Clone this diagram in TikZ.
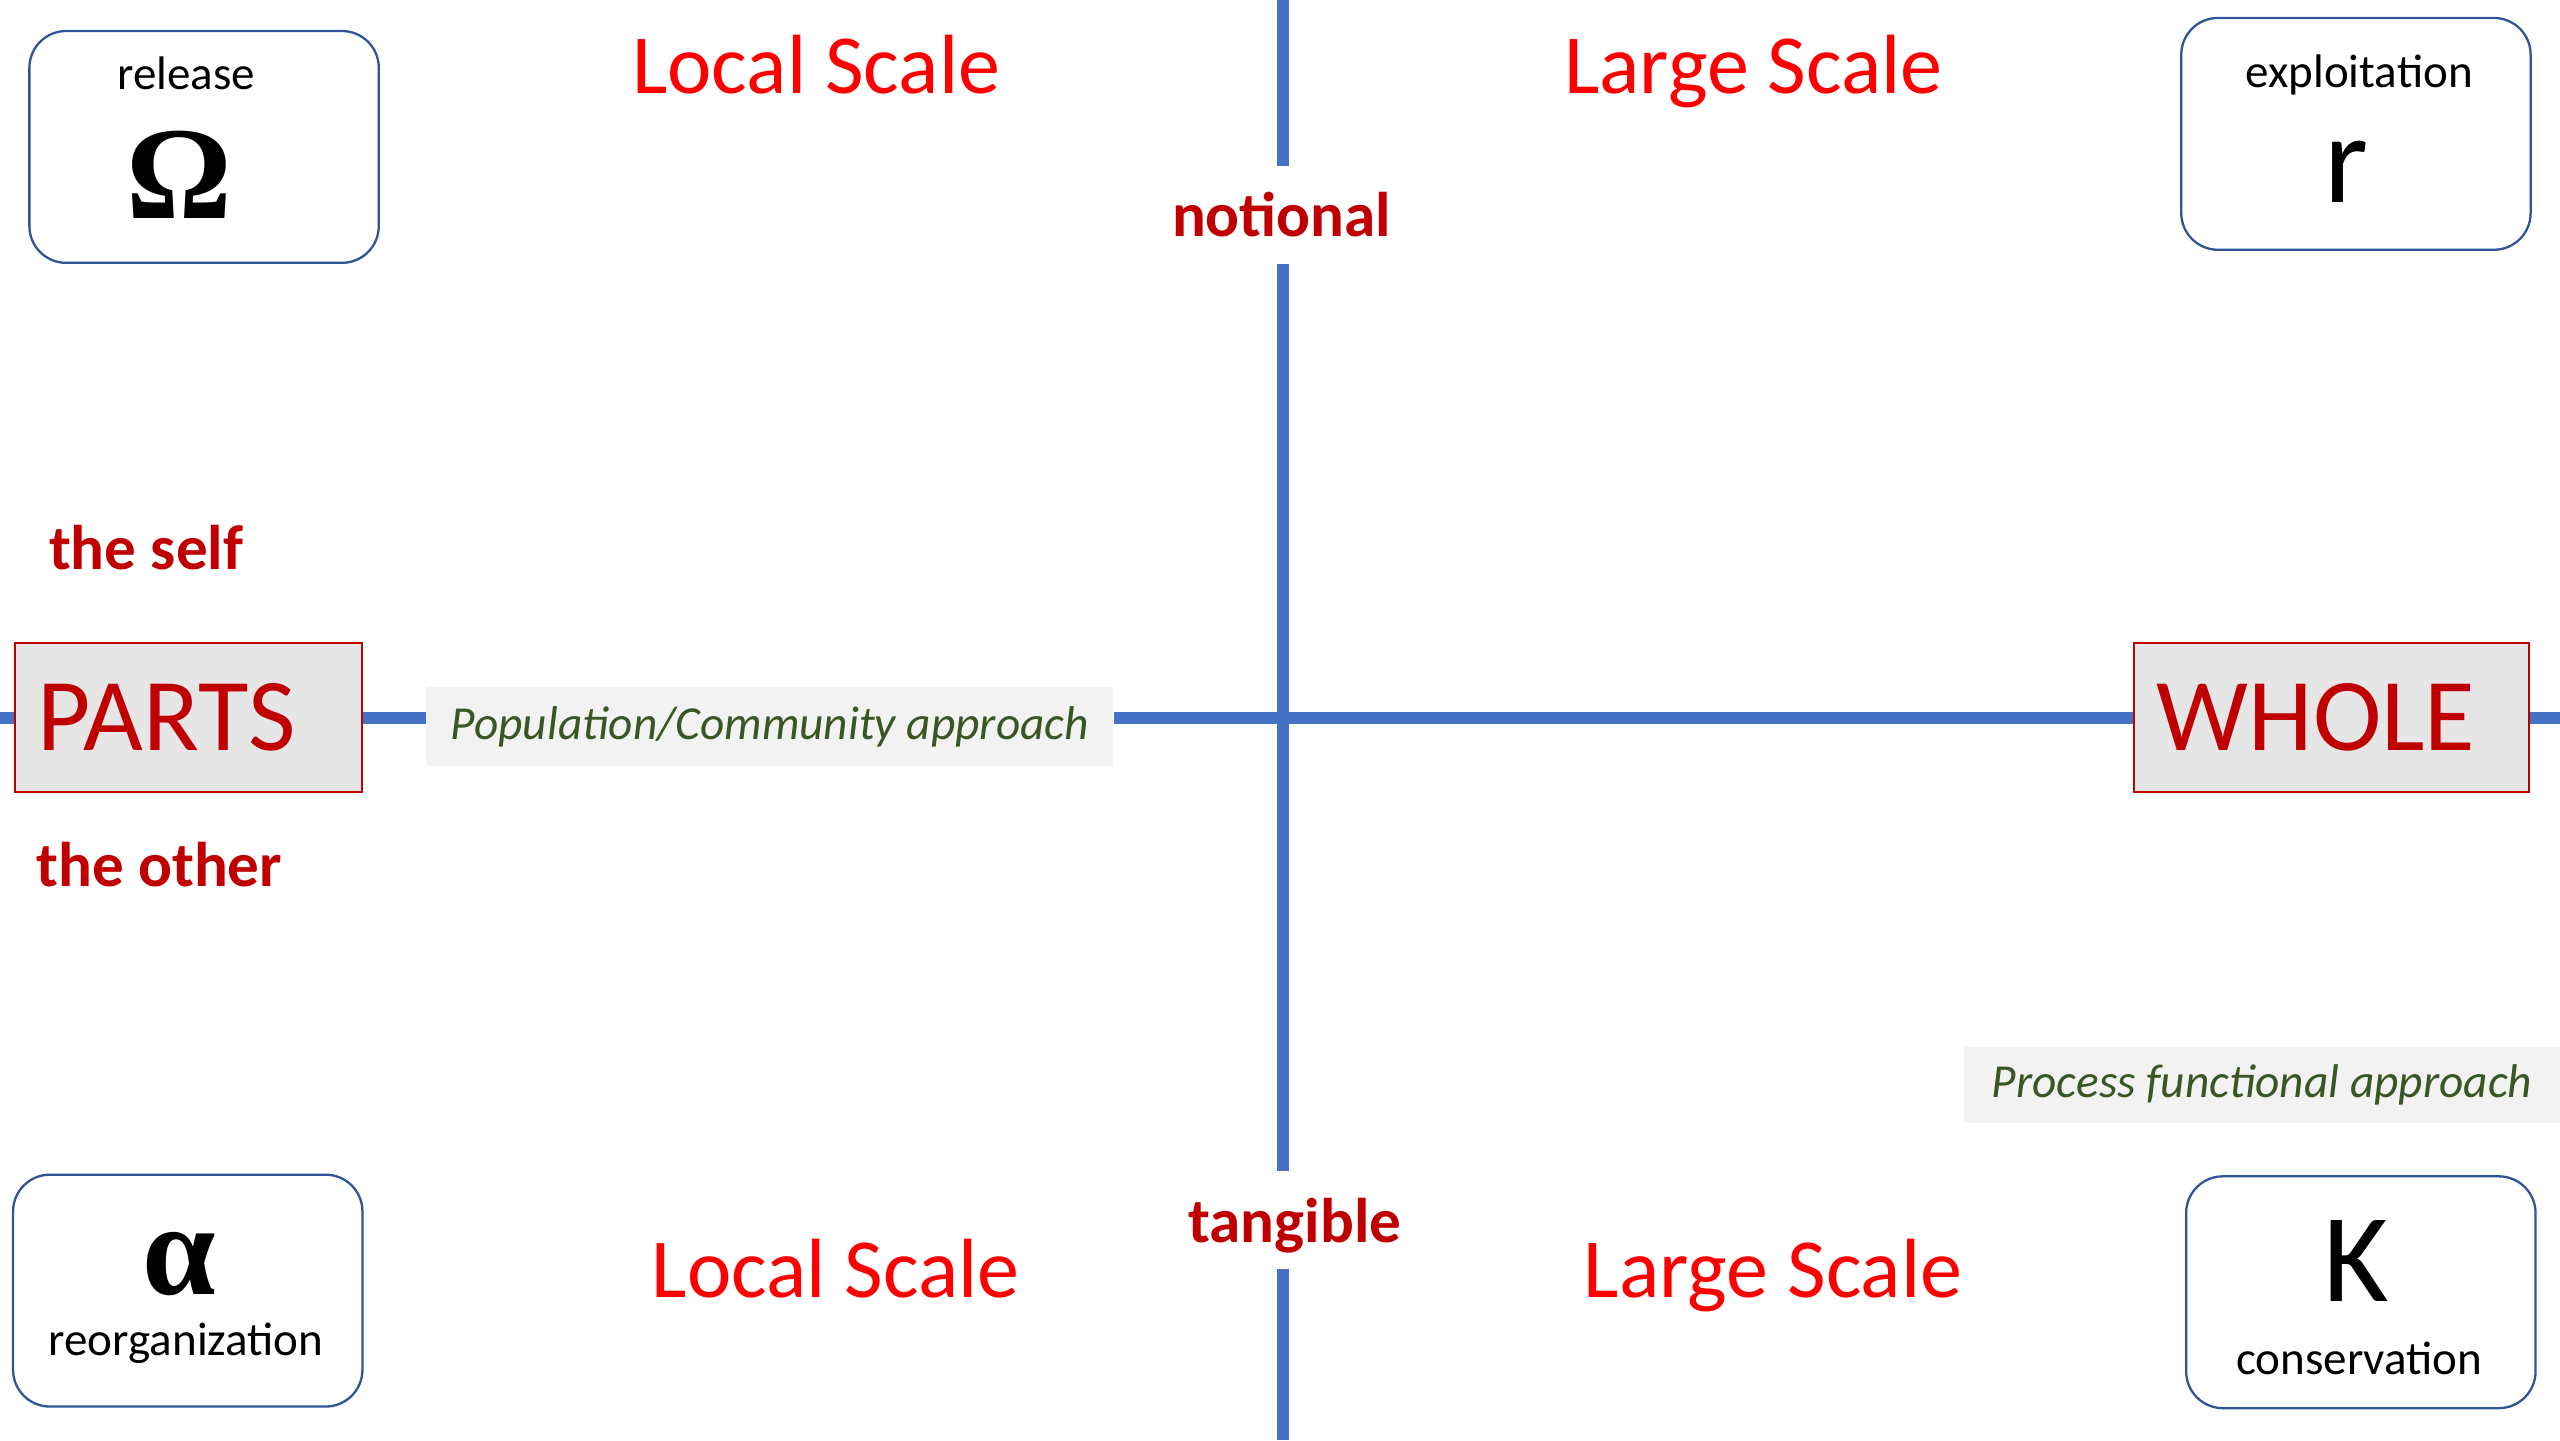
\documentclass[tikz,border=0pt]{standalone}
\usepackage{fontspec}
\setmainfont{Carlito}
\newfontfamily\greekfont{Liberation Serif}
\usepackage{xcolor}
\definecolor{axisblue}{HTML}{4472C4}
\definecolor{boxblue}{HTML}{2F5597}
\definecolor{darkred}{HTML}{C00000}
\definecolor{scalered}{HTML}{FF0000}
\definecolor{apprgreen}{HTML}{385723}
\definecolor{partsgray}{HTML}{E7E6E6}
\definecolor{labelgray}{HTML}{F2F2F2}

\begin{document}
\begin{tikzpicture}[
  axis/.style={draw=axisblue, line width=4.2pt},
  scalelabel/.style={anchor=base, text=scalered, font=\fontsize{29.3}{35}\selectfont},
  polelabel/.style={anchor=base, text=darkred, inner xsep=0pt, inner ysep=0.32cm, font=\fontsize{22}{26}\selectfont\bfseries},
  partbox/.style={draw=darkred, line width=0.7pt, fill=partsgray, text=darkred, align=left,
    inner xsep=0.28cm, minimum height=1.82cm, font=\fontsize{36}{43}\selectfont},
  apprbox/.style={fill=labelgray, text=apprgreen, inner sep=0pt, font=\fontsize{16.5}{20}\selectfont\itshape},
  phasebox/.style={draw=boxblue, line width=0.8pt, rounded corners=0.45cm, fill=white,
    minimum width=4.28cm, minimum height=2.84cm},
  phasename/.style={anchor=base, font=\fontsize{16.4}{20}\selectfont},
  phasesym/.style={anchor=base, font=\fontsize{44}{50}\selectfont},
  greeksym/.style={anchor=base, font=\fontsize{46}{52}\selectfont\greekfont\bfseries}
]
\useasboundingbox (0,0) rectangle (31.36,17.64);

\node[phasebox] (releasebox) at (2.50,15.84) {};
\node[phasebox] (exploitbox) at (28.86,16.00) {};
\node[phasebox] (reorgbox) at (2.30,1.83) {};
\node[phasebox] (conservbox) at (28.92,1.81) {};

\node[phasename] (release) at (2.28,16.54) {release};
\node[greeksym] (omega) at (2.20,14.96) {Ω};
\node[phasename] (exploitation) at (28.90,16.57) {exploitation};
\node[phasesym] (rsym) at (28.74,15.16) {r};
\node[greeksym] (alpha) at (2.20,1.78) {α};
\node[phasename] (reorganization) at (2.28,1.04) {reorganization};
\node[phasesym] (ksym) at (28.86,1.70) {K};
\node[phasename] (conservation) at (28.90,0.80) {conservation};

\node[scalelabel] (localtop) at (10.00,16.50) {Local Scale};
\node[scalelabel] (largetop) at (21.48,16.50) {Large Scale};
\node[scalelabel] (localbot) at (10.24,1.74) {Local Scale};
\node[scalelabel] (largebot) at (21.72,1.74) {Large Scale};

\coordinate (vtop) at (15.72,17.64);
\coordinate (vbot) at (15.72,0);
\node[polelabel] (notional) at (15.70,14.74) {notional};
\node[polelabel, text depth=0pt] (tangible) at (15.86,2.42) {tangible};
\draw[axis] (vtop) -- (vtop |- notional.north);
\draw[axis] (vtop |- notional.south) -- (vtop |- tangible.north);
\draw[axis] (vtop |- tangible.south) -- (vbot);

\node[polelabel] (self) at (1.79,10.66) {the self};
\node[polelabel] (other) at (1.95,6.78) {the other};

\coordinate (hleft) at (0,8.84);
\coordinate (hright) at (31.36,8.84);
\node[partbox, text width=3.70cm] (parts) at (2.31,8.85) {PARTS};
\node[partbox, text width=4.28cm] (whole) at (28.56,8.85) {WHOLE};
\node[apprbox, minimum width=8.42cm, minimum height=0.96cm] (popappr) at (9.43,8.74) {Population/Community approach};
\node[apprbox, minimum width=7.30cm, minimum height=0.94cm] (procappr) at (27.71,4.35) {Process functional approach};
\draw[axis] (hleft) -- (hleft -| parts.west);
\draw[axis] (hleft -| parts.east) -- (hleft -| popappr.west);
\draw[axis] (hleft -| popappr.east) -- (hleft -| whole.west);
\draw[axis] (hleft -| whole.east) -- (hright);
\end{tikzpicture}
\end{document}
